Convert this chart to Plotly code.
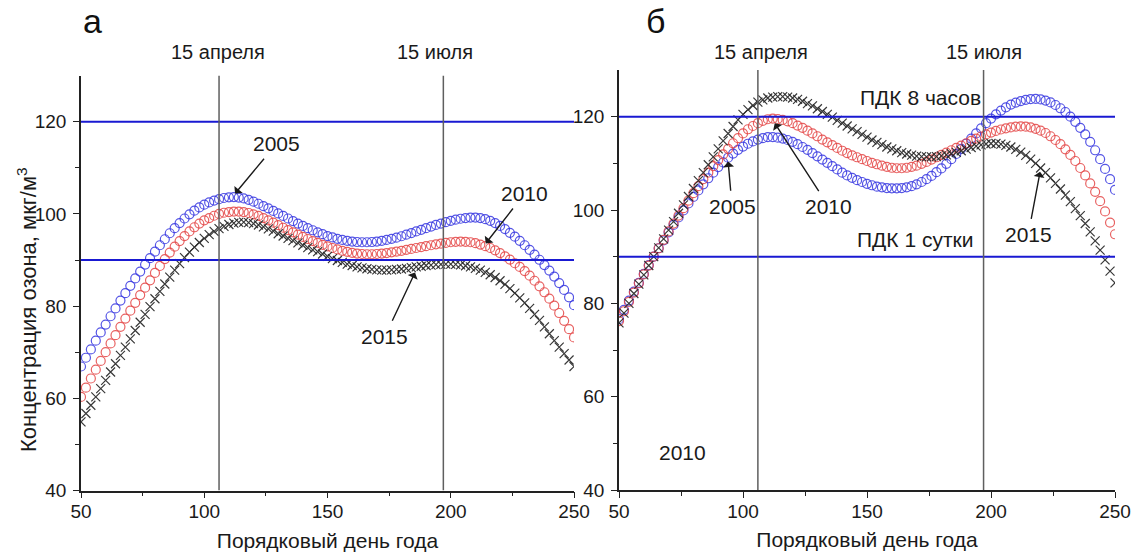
import plotly.graph_objects as go

DAYS = list(range(50, 251, 2))

# Panel a
A_2005 = [66.9, 68.8, 70.6, 72.5, 74.3, 76.0, 77.8, 79.5, 81.2, 82.8, 84.4, 86.0, 87.5, 89.0, 90.4, 91.8, 93.2, 94.5, 95.8, 96.9,
          98.0, 99.0, 99.9, 100.7, 101.4, 102.0, 102.5, 102.9, 103.2, 103.45, 103.6, 103.65, 103.55, 103.35, 103.05, 102.65, 102.2, 101.7, 101.2, 100.65,
          100.1, 99.55, 99.0, 98.45, 97.9, 97.4, 96.9, 96.45, 96.0, 95.6, 95.2, 94.9, 94.6, 94.35, 94.15, 94.0, 93.9, 93.85, 93.85, 93.9,
          94.0, 94.15, 94.35, 94.6, 94.85, 95.15, 95.5, 95.85, 96.2, 96.55, 96.9, 97.25, 97.6, 97.9, 98.2, 98.5, 98.75, 98.95, 99.1, 99.2,
          99.2, 99.1, 98.85, 98.5, 98.0, 97.4, 96.7, 95.9, 95.05, 94.15, 93.2, 92.2, 91.15, 90.05, 88.9, 87.7, 86.4, 85.0, 83.5, 81.9, 80.2]
A_2010 = [60.3, 62.3, 64.3, 66.2, 68.1, 70.0, 71.9, 73.7, 75.5, 77.3, 79.0, 80.7, 82.4, 84.0, 85.6, 87.2, 88.7, 90.2, 91.6, 92.9,
          94.1, 95.2, 96.2, 97.1, 97.9, 98.6, 99.1, 99.6, 100.0, 100.25, 100.4, 100.5, 100.5, 100.4, 100.2, 99.9, 99.55, 99.1, 98.6, 98.1,
          97.55, 97.0, 96.5, 96.0, 95.5, 95.0, 94.55, 94.1, 93.7, 93.3, 92.95, 92.6, 92.3, 92.0, 91.75, 91.55, 91.4, 91.3, 91.25, 91.25,
          91.3, 91.4, 91.5, 91.65, 91.8, 92.0, 92.2, 92.4, 92.6, 92.8, 93.0, 93.2, 93.4, 93.55, 93.7, 93.85, 93.95, 94.0, 93.95, 93.85,
          93.65, 93.35, 93.0, 92.6, 92.1, 91.5, 90.8, 90.1, 89.3, 88.5, 87.6, 86.6, 85.5, 84.3, 83.0, 81.6, 80.1, 78.5, 76.8, 75.0, 73.2]
A_2015 = [54.9, 56.7, 58.5, 60.3, 62.1, 63.9, 65.7, 67.5, 69.3, 71.1, 72.9, 74.7, 76.5, 78.2, 79.9, 81.6, 83.2, 84.8, 86.3, 87.8,
          89.2, 90.5, 91.7, 92.8, 93.8, 94.7, 95.5, 96.2, 96.8, 97.3, 97.7, 98.0, 98.15, 98.2, 98.1, 97.9, 97.6, 97.2, 96.75, 96.25,
          95.7, 95.2, 94.7, 94.2, 93.7, 93.2, 92.7, 92.2, 91.8, 91.3, 90.8, 90.3, 89.9, 89.5, 89.1, 88.8, 88.5, 88.3, 88.1, 87.95,
          87.85, 87.8, 87.8, 87.85, 87.95, 88.05, 88.2, 88.35, 88.5, 88.65, 88.8, 88.9, 89.0, 89.05, 89.1, 89.1, 89.05, 88.95, 88.75, 88.5,
          88.2, 87.8, 87.3, 86.8, 86.2, 85.5, 84.7, 83.8, 82.8, 81.8, 80.7, 79.5, 78.2, 76.9, 75.5, 74.0, 72.5, 71.1, 69.7, 68.3, 66.9]

# Panel b
B_2005 = [76.6, 78.6, 80.6, 82.5, 84.4, 86.3, 88.2, 90.0, 91.8, 93.5, 95.2, 96.8, 98.4, 99.9, 101.4, 102.8, 104.2, 105.5, 106.8, 108.0,
          109.2, 110.2, 111.2, 112.1, 112.9, 113.6, 114.2, 114.7, 115.1, 115.4, 115.6, 115.6, 115.5, 115.3, 115.0, 114.6, 114.1, 113.5, 112.9, 112.2,
          111.5, 110.8, 110.1, 109.4, 108.7, 108.0, 107.4, 106.9, 106.4, 106.0, 105.6, 105.3, 105.0, 104.85, 104.7, 104.65, 104.65, 104.7, 104.85, 105.1,
          105.5, 106.0, 106.6, 107.3, 108.1, 108.9, 109.9, 110.9, 112.0, 113.1, 114.2, 115.3, 116.4, 117.5, 118.6, 119.6, 120.5, 121.3, 122.0, 122.6,
          123.0, 123.35, 123.6, 123.75, 123.8, 123.7, 123.45, 123.05, 122.5, 121.8, 121.0, 120.0, 118.9, 117.6, 116.2, 114.6, 112.8, 110.9, 108.8, 106.6, 104.3]
B_2010 = [76.2, 78.3, 80.3, 82.3, 84.3, 86.2, 88.1, 90.0, 91.8, 93.6, 95.4, 97.1, 98.8, 100.4, 102.0, 103.6, 105.1, 106.6, 108.0, 109.4,
          110.7, 111.9, 113.1, 114.3, 115.4, 116.4, 117.3, 118.0, 118.6, 119.1, 119.45, 119.6, 119.5, 119.3, 119.0, 118.6, 118.1, 117.6, 117.0, 116.4,
          115.8, 115.1, 114.5, 113.9, 113.3, 112.7, 112.2, 111.7, 111.3, 110.9, 110.5, 110.1, 109.8, 109.5, 109.25, 109.05, 108.95, 108.95, 109.05, 109.25,
          109.5, 109.9, 110.3, 110.8, 111.3, 111.8, 112.3, 112.8, 113.3, 113.8, 114.3, 114.8, 115.3, 115.75, 116.2, 116.6, 116.95, 117.25, 117.5, 117.7,
          117.85, 117.9, 117.85, 117.7, 117.4, 117.0, 116.5, 115.8, 115.0, 114.1, 113.0, 111.8, 110.5, 109.0, 107.4, 105.7, 103.9, 101.9, 99.7, 97.3, 94.8]
B_2015 = [75.8, 77.9, 80.0, 82.1, 84.1, 86.1, 88.1, 90.0, 91.9, 93.8, 95.7, 97.5, 99.3, 101.1, 102.9, 104.6, 106.3, 108.0, 109.7, 111.4,
          113.1, 114.8, 116.4, 117.9, 119.3, 120.5, 121.5, 122.4, 123.1, 123.6, 124.0, 124.2, 124.3, 124.3, 124.2, 124.0, 123.7, 123.3, 122.8, 122.3,
          121.7, 121.1, 120.5, 119.9, 119.2, 118.6, 118.0, 117.4, 116.8, 116.2, 115.6, 115.0, 114.5, 114.0, 113.5, 113.1, 112.7, 112.3, 112.0, 111.75,
          111.55, 111.45, 111.4, 111.4, 111.45, 111.6, 111.8, 112.05, 112.35, 112.7, 113.05, 113.4, 113.7, 113.95, 114.15, 114.25, 114.25, 114.1, 113.85, 113.5,
          113.0, 112.4, 111.7, 110.9, 110.0, 109.0, 108.0, 106.9, 105.7, 104.5, 103.2, 101.8, 100.3, 98.8, 97.1, 95.3, 93.4, 91.4, 89.3, 86.9, 84.4]

LIMITS = [120, 90]            # ПДК 8 часов, ПДК 1 сутки
DATE_DAYS = [106, 197]        # 15 апреля, 15 июля
DATE_LABELS = ["15 апреля", "15 июля"]
X_TICKS = [50, 100, 150, 200, 250]
Y_TICKS = [40, 60, 80, 100, 120]

FONT = "Arial, 'Liberation Sans', sans-serif"
TXT = "#1a1a1a"
BLUE = "rgba(55,55,225,0.85)"
RED = "rgba(228,70,70,0.85)"
BLACK = "rgba(35,35,35,0.9)"

fig = go.Figure()

def add_series(y, xa, ya, color, symbol, name, size):
    fig.add_trace(go.Scatter(
        x=DAYS, y=y, mode="markers", name=name, xaxis=xa, yaxis=ya,
        marker=dict(symbol=symbol, size=size, color=color,
                    line=dict(width=1.2, color=color)),
        showlegend=False))

add_series(A_2005, "x", "y", BLUE, "circle-open", "2005", 9)
add_series(A_2010, "x", "y", RED, "circle-open", "2010", 9)
add_series(A_2015, "x", "y", BLACK, "x-thin", "2015", 9)
add_series(B_2005, "x2", "y2", BLUE, "circle-open", "2005", 9)
add_series(B_2010, "x2", "y2", RED, "circle-open", "2010", 9)
add_series(B_2015, "x2", "y2", BLACK, "x-thin", "2015", 9)

shapes = []
for xr, yr in (("x", "y"), ("x2", "y2")):
    for lim in LIMITS:
        shapes.append(dict(type="line", xref=xr, yref=yr, x0=50, x1=250, y0=lim, y1=lim,
                           line=dict(color="rgb(25,25,210)", width=2)))
    for d in DATE_DAYS:
        shapes.append(dict(type="line", xref=xr, yref=yr, x0=d, x1=d, y0=40, y1=130,
                           line=dict(color="rgb(95,95,95)", width=1.5)))

ann = []
def txt(x, y, s, xr="x", yr="y", size=21):
    ann.append(dict(x=x, y=y, xref=xr, yref=yr, text=s, showarrow=False,
                    xanchor="center", yanchor="middle",
                    font=dict(size=size, color=TXT, family=FONT)))

def label_arrow(s, xt, yt, xh, yh, xr="x", yr="y", size=21):
    ann.append(dict(x=xh, y=yh, ax=xt, ay=yt, xref=xr, yref=yr, axref=xr, ayref=yr,
                    text=s, showarrow=True, arrowhead=1, arrowsize=1.3, arrowwidth=1.4,
                    arrowcolor=TXT, startstandoff=3,
                    font=dict(size=size, color=TXT, family=FONT)))

# panel letters
for xpix, letter in ((92, "а"), (655, "б")):
    ann.append(dict(x=xpix / 1133, y=1 - 21 / 557, xref="paper", yref="paper", text=letter,
                    showarrow=False, xanchor="center", yanchor="middle",
                    font=dict(size=34, color="#111", family=FONT)))

# date labels above plots
for xr, xs in (("x", [105.6, 193.6]), ("x2", [107.3, 197.2])):
    for xv, lab in zip(xs, DATE_LABELS):
        ann.append(dict(x=xv, y=1 - 52 / 557, xref=xr, yref="paper", text=lab, showarrow=False,
                        xanchor="center", yanchor="middle",
                        font=dict(size=20, color=TXT, family=FONT)))

# y axis title
ann.append(dict(x=27 / 1133, y=1 - 310 / 557, xref="paper", yref="paper",
                text="Концентрация озона, мкг/м<sup>3</sup>", textangle=-90, showarrow=False,
                xanchor="center", yanchor="middle",
                font=dict(size=22, color=TXT, family=FONT)))

# panel a year labels
label_arrow("2005", 129.4, 115.3, 112.5, 104.4)
label_arrow("2010", 230.1, 104.5, 214.2, 93.6)
label_arrow("2015", 173.3, 73.4, 185.5, 87.3)

# panel b labels
label_arrow("2005", 95.6, 100.7, 94.0, 110.4, "x2", "y2")
label_arrow("2010", 134.6, 100.7, 112.8, 118.6, "x2", "y2")
label_arrow("2015", 215.0, 94.7, 219.8, 108.2, "x2", "y2")
txt(171.4, 124.2, "ПДК 8 часов", "x2", "y2")
txt(169.4, 93.6, "ПДК 1 сутки", "x2", "y2")
txt(75.8, 48.0, "2010", "x2", "y2")

axis_common = dict(showgrid=False, zeroline=False, showline=True, linecolor="#222", linewidth=1.5,
                   ticks="outside", ticklen=6, tickwidth=1.3, tickcolor="#222", automargin=False,
                   tickfont=dict(size=19, color=TXT, family=FONT))

xa = dict(axis_common, range=[50, 250], tickvals=X_TICKS, ticklabelstandoff=-3,
          minor=dict(tickvals=[75, 125, 175, 225], ticks="outside", ticklen=4, tickcolor="#222"),
          title=dict(text="Порядковый день года", font=dict(size=21, color=TXT, family=FONT), standoff=12))
ya = dict(axis_common, range=[40, 130], tickvals=Y_TICKS, ticklabelstandoff=3,
          minor=dict(tickvals=[50, 70, 90, 110], ticks="outside", ticklen=4, tickcolor="#222"))

fig.update_layout(
    width=1133, height=557, margin=dict(l=0, r=0, t=0, b=0, autoexpand=False),
    paper_bgcolor="white", plot_bgcolor="white",
    font=dict(family=FONT, color=TXT),
    xaxis=dict(xa, domain=[81 / 1133, 574 / 1133], anchor="y"),
    yaxis=dict(ya, domain=[(557 - 490.5) / 557, (557 - 75.6) / 557], anchor="x"),
    xaxis2=dict(xa, domain=[619 / 1133, 1115 / 1133], anchor="y2"),
    yaxis2=dict(ya, domain=[(557 - 490) / 557, (557 - 70) / 557], anchor="x2"),
    shapes=shapes, annotations=ann,
)

fig.write_html("out.html")
